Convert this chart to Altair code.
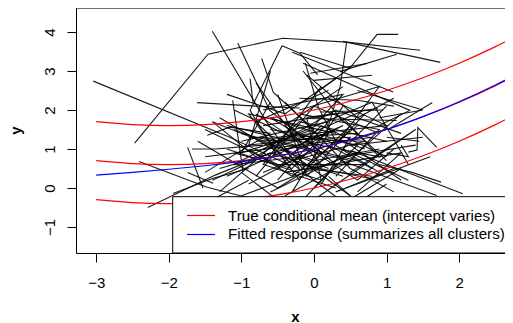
import altair as alt
import pandas as pd

# ---------------- data ----------------
X_DOMAIN = [-3.278, 2.631]
Y_DOMAIN = [-1.667, 4.615]
X_TICKS = [-3, -2, -1, 0, 1, 2]
Y_TICKS = [-1, 0, 1, 2, 3, 4]

# cluster trajectories (each inner list is one cluster, points in drawing order)
POLYLINES = [
    [(-3.04, 2.74), (-1.16, 1.30), (-0.33, 0.58)],
    [(-2.47, 1.15), (-1.46, 3.43), (-0.43, 3.84), (0.45, 3.74), (1.46, 3.53)],
    [(0.40, 3.76), (1.74, 3.22)],
    [(-1.40, 4.02), (-0.67, 1.74), (-0.20, 0.50)],
    [(-1.05, 3.71), (-0.61, 1.99), (0.10, 0.90)],
    [(-0.44, 3.65), (-0.88, 1.99), (-0.50, 0.80)],
    [(0.45, 3.74), (0.36, 2.60), (0.20, 1.60)],
    [(1.16, 3.94), (0.87, 3.94), (0.50, 3.09), (0.00, 2.40)],
    [(-0.30, 3.48), (1.09, 2.46)],
    [(-0.15, 3.20), (1.32, 1.99), (0.90, 1.60)],
    [(0.36, 2.99), (1.14, 3.43)],
    [(1.63, 2.19), (1.05, 1.53), (0.40, 1.20)],
    [(1.69, 1.04), (1.43, 1.55), (1.42, 0.97), (1.30, 0.92)],
    [(0.36, 0.71), (1.69, -0.19)],
    [(0.50, 0.96), (2.05, -0.15)],
    [(-2.41, 0.68), (-1.47, 0.02), (-0.80, -0.30)],
    [(-2.29, -0.50), (-1.36, 0.33), (-0.60, 0.90)],
    [(-1.74, 1.04), (-1.53, 0.00)],
    [(-1.68, 1.00), (-1.36, 1.00), (-0.70, 1.10)],
    [(-1.61, 2.19), (-0.80, 2.10), (-0.20, 2.05)],
    [(-1.47, 1.35), (-1.16, 1.56), (-0.60, 1.40)],
    [(-1.12, 2.25), (-0.98, 0.45)],
    [(-0.10, 1.78), (1.14, 1.73)],
    [(-0.10, 1.81), (0.88, 2.04)],
    [(-0.19, 3.48), (0.50, 3.07)],
    [(-0.05, 2.94), (0.73, 3.19)],
    [(-0.01, 2.76), (0.80, 2.89)],
    [(-0.12, 3.20), (0.06, 2.07), (0.30, 1.20)],
    [(-0.15, 3.00), (0.40, 1.70)],
    [(-0.72, 3.32), (-0.56, 2.45), (0.00, 1.50)],
    [(-0.88, 2.80), (-0.84, 2.20)],
    [(-0.44, 3.65), (-0.19, 3.45), (0.05, 2.90)],
    [(-1.94, -0.14), (-1.39, 0.25), (-0.90, 0.50)],
    [(-1.74, 0.40), (-1.39, 0.12)],
    [(0.90, 0.60), (1.35, 0.40), (1.75, 0.15)],
    [(1.00, 1.30), (1.45, 1.20)],
    [(1.00, 0.90), (1.30, 0.80), (1.20, 1.10)],
    [(-1.2, 0.3), (0.4, 1.6), (-0.3, 0.9)],
    [(-0.8, 1.9), (0.6, 0.2), (1.1, 1.0)],
    [(-1.5, 0.8), (0.2, 1.2), (0.9, 0.4)],
    [(-0.5, 2.4), (-0.1, 0.3), (0.7, 1.9)],
    [(-1.0, 1.4), (0.5, 0.7), (-0.4, -0.2)],
    [(0.1, 2.6), (-0.7, 0.6), (0.3, 0.0)],
    [(-1.3, -0.1), (-0.2, 1.7), (1.0, 1.2)],
    [(-0.6, 1.1), (0.8, 2.2), (1.3, 0.6)],
    [(-1.1, 2.0), (-0.3, 1.3), (0.6, 1.4)],
    [(-0.9, 0.1), (0.0, 1.0), (0.4, 2.1)],
    [(0.2, 0.5), (-1.4, 1.7), (-0.8, 0.8)],
    [(-0.4, 0.4), (1.2, 0.9), (0.6, -0.1)],
    [(-0.2, 2.0), (0.9, 2.6), (0.3, 1.1)],
    [(-1.6, 1.2), (-0.5, 0.0), (0.2, 0.8)],
    [(0.0, 1.5), (-1.0, 0.9), (-0.6, 2.2)],
    [(0.5, 0.4), (1.4, 1.5), (0.0, -0.3)],
    [(-0.7, 1.6), (0.3, 1.9), (1.0, 0.7)],
    [(-1.2, 1.0), (0.1, 0.2), (-0.1, 1.8)],
    [(-0.3, 0.7), (0.7, 1.2), (-0.9, 1.3)],
    [(0.4, 2.6), (-0.4, 1.6), (0.1, 0.6)],
    [(-1.0, -0.2), (0.6, 0.9), (1.2, 1.9)],
    [(-0.8, 2.7), (-0.2, 1.1), (-1.3, 0.5)],
    [(0.8, 0.3), (-0.1, 0.5), (0.5, 1.6)],
    [(-0.5, 1.3), (1.0, 1.6), (0.2, 2.3)],
    [(-1.4, 0.2), (-0.6, 0.9), (0.4, 0.3)],
    [(0.3, 1.4), (-0.9, 1.9), (-0.2, 0.2)],
    [(-0.1, 2.9), (0.6, 1.8), (1.1, 2.3)],
    [(-1.1, 1.5), (0.0, 0.7), (0.9, 1.0)],
    [(-0.3, -0.1), (0.2, 1.4), (-0.7, 1.0)],
    [(0.7, 0.6), (-0.5, 0.6), (-1.5, 1.5)],
    [(-0.6, 3.0), (-0.9, 1.1), (0.1, 1.3)],
    [(0.9, 1.4), (0.0, 2.1), (-0.8, 0.3)],
    [(1.3, 0.2), (0.4, 1.0), (1.0, 2.1)],
    [(-1.2, 2.4), (-0.4, 1.9), (0.3, 2.8)],
    [(0.6, 2.5), (1.5, 2.0), (0.9, 1.8)],
    [(-0.2, 0.8), (-1.1, 0.6), (-0.3, 1.4)],
    [(0.5, -0.2), (-0.4, 1.0), (0.8, 1.3)],
    [(-1.0, 1.2), (0.2, 1.7), (-0.5, 0.2)],
    [(1.1, 0.5), (0.3, -0.1), (1.6, 0.8)],
    [(-0.7, 2.0), (0.4, 2.4), (0.0, 1.6)],
    [(-1.3, 1.8), (-0.2, 0.6), (0.9, 0.2)],
    [(0.0, 0.0), (0.6, 1.1), (-0.6, 1.5)],
    [(-0.9, 0.7), (0.3, 2.0), (1.2, 1.4)],
    [(-0.4, 2.2), (0.5, 0.5), (1.1, -0.1)],
    [(0.7, 2.0), (-0.3, 1.2), (-1.2, 1.6)],
    [(-0.1, 0.4), (-0.8, 1.7), (0.2, 2.5)],
    [(1.0, 0.8), (0.1, 1.6), (-0.5, 0.5)],
    [(-1.5, 0.4), (-0.7, 1.3), (0.6, 0.7)],
    [(0.3, 0.3), (0.9, 1.5), (-0.2, 1.9)],
    [(-0.6, -0.1), (0.4, 0.8), (1.4, 1.1)],
    [(-0.2, 2.3), (0.6, 2.25), (1.1, 2.1)],
    [(0.1, 1.95), (0.95, 2.0)],
    [(-1.0, 0.4), (-0.3, -0.6)],
    [(0.2, 0.3), (0.8, -0.7)],
    [(-0.5, 0.9), (0.5, -0.5), (1.0, 0.1)],
    [(1.2, 0.5), (0.4, -0.4)],
    [(-1.6, -0.5), (-0.9, 0.2)],
    [(-0.7, 0.4), (0.2, 1.1), (0.8, 0.5)],
    [(-0.4, 1.7), (0.3, 0.6), (-0.2, -0.4)],
    [(0.6, 1.6), (-0.3, 0.3), (-0.9, 1.0)],
    [(-0.8, 1.2), (0.5, 1.3), (0.1, 0.1)],
    [(0.2, 0.9), (-0.6, 1.8), (0.7, 1.0)],
    [(-0.2, 1.2), (0.9, 0.8), (0.4, 1.8)],
    [(1.2, 0.2), (0.5, 1.1), (1.5, 1.3)],
    [(-1.1, 0.9), (-0.3, 0.5), (0.2, 1.5)],
]

# conditional-mean curves and fitted curve, read at these x positions
CURVE_X = [-3.0, -2.5, -2.0, -1.5, -1.0, -0.5, 0.0, 0.5, 1.0, 1.5, 2.0, 2.5, 3.0]
RED_LOW = [-0.30, -0.375, -0.40, -0.375, -0.30, -0.175, 0.0, 0.225, 0.50, 0.825, 1.20, 1.625, 2.10]
RED_MID = [0.70, 0.625, 0.60, 0.625, 0.70, 0.825, 1.0, 1.225, 1.50, 1.825, 2.20, 2.625, 3.10]
RED_HIGH = [1.70, 1.625, 1.60, 1.625, 1.70, 1.825, 2.0, 2.225, 2.50, 2.825, 3.20, 3.625, 4.10]
BLUE_FIT = [0.33, 0.40, 0.48, 0.57, 0.68, 0.82, 1.0, 1.23, 1.50, 1.83, 2.21, 2.64, 3.12]

LEGEND_LABELS = ["True conditional mean (intercept varies)",
                 "Fitted response (summarizes all clusters)"]
LEGEND_COLORS = ["#ff0000", "#0000ff"]

# ---------------- tables ----------------
rows = []
for cid, pts in enumerate(POLYLINES):
    for k, (px, py) in enumerate(pts):
        rows.append({"cid": cid, "k": k, "x": px, "y": py})
clusters = pd.DataFrame(rows)

red = pd.DataFrame(
    [{"s": name, "x": cx, "y": cy}
     for name, ys in (("low", RED_LOW), ("mid", RED_MID), ("high", RED_HIGH))
     for cx, cy in zip(CURVE_X, ys)]
)
blue = pd.DataFrame({"x": CURVE_X, "y": BLUE_FIT})
one = pd.DataFrame({"a": [0]})

FONT = "Liberation Sans"
W, H = 429, 245

xs = alt.Scale(domain=X_DOMAIN, nice=False, zero=False)
ys = alt.Scale(domain=Y_DOMAIN, nice=False, zero=False)

x_axis = alt.Axis(values=X_TICKS, format="d", tickSize=9, labelPadding=13,
                  labelFontSize=15, labelFont=FONT, labelColor="black",
                  title="x", titleFont=FONT, titleFontSize=15, titleFontWeight="bold",
                  titleColor="black", titleX=219, titleY=68, titleAlign="center",
                  titleBaseline="alphabetic",
                  grid=False, domainColor="black", tickColor="black")
y_axis = alt.Axis(values=Y_TICKS, format="d", tickSize=9, labelPadding=13,
                  labelAngle=270, labelAlign="center", labelBaseline="alphabetic",
                  labelFontSize=15, labelFont=FONT, labelColor="black",
                  title="y", titleFont=FONT, titleFontSize=15, titleFontWeight="bold",
                  titleColor="black", titleAngle=270, titleX=-56, titleY=122,
                  titleAlign="center", titleBaseline="alphabetic",
                  grid=False, domainColor="black", tickColor="black")

lines = alt.Chart(clusters).mark_line(color="black", strokeWidth=1.1, opacity=0.9, clip=True).encode(
    x=alt.X("x:Q", scale=xs, axis=x_axis),
    y=alt.Y("y:Q", scale=ys, axis=y_axis),
    detail="cid:N",
    order="k:Q",
)

red_layer = alt.Chart(red).mark_line(color="#ff0000", strokeWidth=1.2, interpolate="natural", clip=True).encode(
    x=alt.X("x:Q", scale=xs), y=alt.Y("y:Q", scale=ys), detail="s:N"
)
blue_layer = alt.Chart(blue).mark_line(color="#0000ff", strokeWidth=1.2, interpolate="natural", clip=True).encode(
    x=alt.X("x:Q", scale=xs), y=alt.Y("y:Q", scale=ys)
)

legend_box = alt.Chart(one).mark_rect(fill="white", stroke="black", strokeWidth=1).encode(
    x=alt.value(96.7), x2=alt.value(445), y=alt.value(188.7), y2=alt.value(245)
)
leg_line1 = alt.Chart(one).mark_rule(color=LEGEND_COLORS[0], strokeWidth=1.2).encode(
    x=alt.value(111), x2=alt.value(139), y=alt.value(207.5)
)
leg_line2 = alt.Chart(one).mark_rule(color=LEGEND_COLORS[1], strokeWidth=1.2).encode(
    x=alt.value(111), x2=alt.value(139), y=alt.value(226.5)
)
leg_text1 = alt.Chart(one).mark_text(align="left", baseline="alphabetic", font=FONT,
                                     fontSize=15.2, color="black").encode(
    x=alt.value(152), y=alt.value(213), text=alt.value(LEGEND_LABELS[0])
)
leg_text2 = alt.Chart(one).mark_text(align="left", baseline="alphabetic", font=FONT,
                                     fontSize=15.2, color="black").encode(
    x=alt.value(152), y=alt.value(231.3), text=alt.value(LEGEND_LABELS[1])
)
top_border = alt.Chart(one).mark_rule(color="black", strokeWidth=1).encode(
    x=alt.value(0), x2=alt.value(W), y=alt.value(0)
)

chart = alt.layer(
    lines, red_layer, blue_layer, legend_box, leg_line1, leg_line2,
    leg_text1, leg_text2, top_border
).properties(
    width=W, height=H,
    autosize=alt.AutoSizeParams(type="none"),
    padding={"left": 68, "top": 0, "right": 0, "bottom": 70},
).configure_view(stroke=None).configure(background="white")

chart.save("out.html", embed_options={"renderer": "svg", "actions": False})
